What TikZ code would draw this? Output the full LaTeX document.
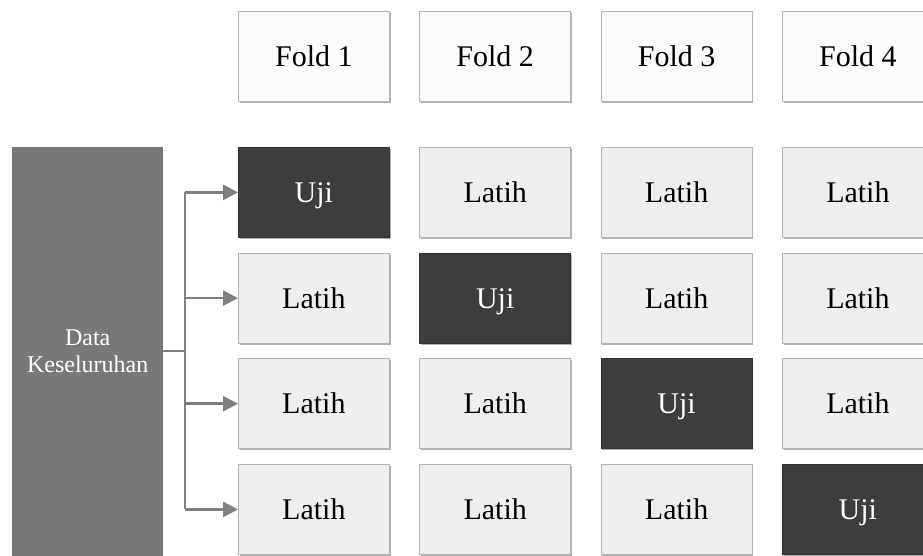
\documentclass[tikz,border=0pt]{standalone}
\usepackage{fontspec}
\setmainfont{Liberation Serif}
\usetikzlibrary{arrows.meta,shadows,positioning}
\definecolor{datagray}{HTML}{787878}
\definecolor{darkbox}{HTML}{3D3D3D}
\definecolor{lightbox}{HTML}{EEEEEE}
\definecolor{foldbox}{HTML}{FBFBFB}
\definecolor{boxline}{HTML}{B4B4B0}
\definecolor{conncol}{HTML}{7F7F7F}
\tikzset{
  cell/.style={rectangle, anchor=north west, minimum width=151pt, minimum height=90pt,
    inner sep=0pt, draw=boxline, line width=0.8pt, font=\fontsize{30}{32}\selectfont,
    text height=20pt, text depth=0pt,
    drop shadow={shadow xshift=1.2pt, shadow yshift=-1.5pt, opacity=0.3, fill=black}},
  foldcell/.style={cell, fill=foldbox, text=black},
  latih/.style={cell, fill=lightbox, text=black},
  uji/.style={cell, fill=darkbox, text=white, draw=darkbox!80!black},
  databox/.style={rectangle, anchor=north west, minimum width=151pt, minimum height=409pt,
    inner sep=0pt, fill=datagray, text=white, align=center,
    font=\fontsize{24}{27}\selectfont},
  conn/.style={draw=conncol, line width=2.7pt},
  arr/.style={conn, -{Triangle[length=15pt, width=15pt]}, shorten >=0pt}
}
\begin{document}
\begin{tikzpicture}[x=1pt,y=-1pt]
\useasboundingbox (0,0) rectangle (923,556);
\fill[white] (0,0) rectangle (923,556);
% header
\node[foldcell] (f1) at (238,11) {Fold 1};
\node[foldcell] (f2) at (419.3,11) {Fold 2};
\node[foldcell] (f3) at (600.7,11) {Fold 3};
\node[foldcell] (f4) at (782,11) {Fold 4};
% row 1
\node[uji]   (r1c1) at (238,147) {Uji};
\node[latih] (r1c2) at (419.3,147) {Latih};
\node[latih] (r1c3) at (600.7,147) {Latih};
\node[latih] (r1c4) at (782,147) {Latih};
% row 2
\node[latih] (r2c1) at (238,252.7) {Latih};
\node[uji]   (r2c2) at (419.3,252.7) {Uji};
\node[latih] (r2c3) at (600.7,252.7) {Latih};
\node[latih] (r2c4) at (782,252.7) {Latih};
% row 3
\node[latih] (r3c1) at (238,358.3) {Latih};
\node[latih] (r3c2) at (419.3,358.3) {Latih};
\node[uji]   (r3c3) at (600.7,358.3) {Uji};
\node[latih] (r3c4) at (782,358.3) {Latih};
% row 4
\node[latih] (r4c1) at (238,464) {Latih};
\node[latih] (r4c2) at (419.3,464) {Latih};
\node[latih] (r4c3) at (600.7,464) {Latih};
\node[uji]   (r4c4) at (782,464) {Uji};
% data
\node[databox] (data) at (12,147) {Data\\Keseluruhan};
% connectors
\coordinate (trunk) at (185,351);
\draw[conn] (data.east |- trunk) -- (trunk);
\draw[conn] (trunk |- r1c1.west) -- (trunk |- r4c1.west);
\draw[arr] (trunk |- r1c1.west) -- (r1c1.west);
\draw[arr] (trunk |- r2c1.west) -- (r2c1.west);
\draw[arr] (trunk |- r3c1.west) -- (r3c1.west);
\draw[arr] (trunk |- r4c1.west) -- (r4c1.west);
\end{tikzpicture}
\end{document}
